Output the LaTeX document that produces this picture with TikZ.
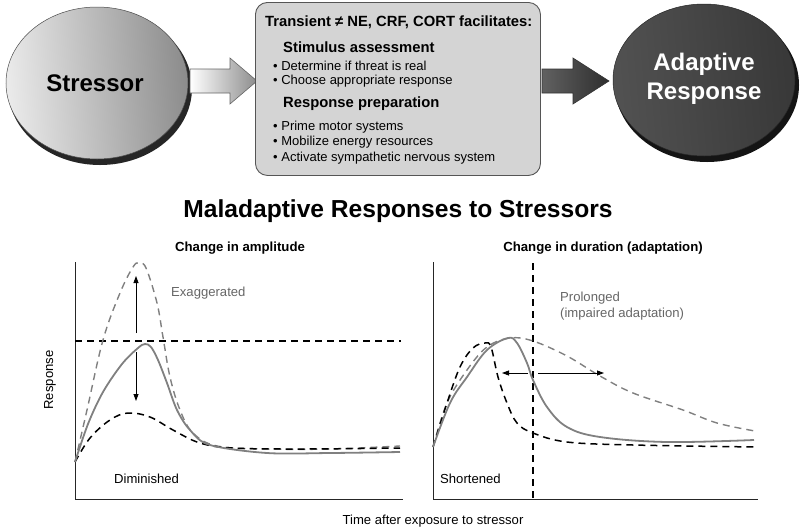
\documentclass[tikz,border=0pt]{standalone}
\usepackage{fontspec}
\setmainfont{Liberation Sans}
\usetikzlibrary{arrows.meta}
\definecolor{boxfill}{HTML}{D4D4D4}
\definecolor{boxline}{HTML}{555555}
\definecolor{curvegray}{HTML}{808080}
\begin{document}
\begin{tikzpicture}[x=1pt,y=-1pt,
  hd/.style={font=\bfseries\fontsize{14.8}{17}\selectfont, anchor=west, inner sep=0pt},
  bl/.style={font=\fontsize{13}{15}\selectfont, anchor=west, inner sep=0pt},
  ptitle/.style={font=\bfseries\fontsize{13.2}{15}\selectfont, inner sep=0pt},
  lbl/.style={font=\fontsize{13.1}{16}\selectfont, inner sep=0pt},
  axisline/.style={draw=black!85, line width=0.9pt},
  bdash/.style={draw=black, line width=1.5pt, dash pattern=on 7pt off 5pt},
  gdash/.style={draw=curvegray, line width=1.4pt, dash pattern=on 7pt off 5pt},
  gsolid/.style={draw=curvegray, line width=1.8pt},
  tip/.style={-{Triangle[length=7pt,width=5pt]}, line width=0.8pt}
]
\useasboundingbox (0,0) rectangle (800,528);

% ---- Stressor ellipse
\fill[black!85] (100,88) ellipse [x radius=92, y radius=77];
\shade[left color=black!8, right color=black!45, shading angle=95, draw=black!70, line width=0.5pt] (97,83) ellipse [x radius=91, y radius=76];
\node[font=\bfseries\fontsize{24}{28}\selectfont] (stressor) at (95,83) {Stressor};

% ---- arrow 1
\shade[left color=white, right color=black!45, draw=black!60, line width=0.6pt]
  (190,69) -- (230,69) -- (230,58) -- (257,81) -- (230,104) -- (230,93) -- (190,93) -- cycle;

% ---- box
\node[draw=boxline, fill=boxfill, rounded corners=12pt, line width=0.9pt,
      minimum width=285pt, minimum height=173pt, anchor=north west] (box) at (255,2) {};
\node[hd] (t0) at (265,22) {Transient ≠ NE, CRF, CORT facilitates:};
\node[hd] (t1) at (283,47) {Stimulus assessment};
\node[bl] (t2) at (273,66) {• Determine if threat is real};
\node[bl] (t3) at (273,81) {• Choose appropriate response};
\node[hd] (t4) at (283,104) {Response preparation};
\node[bl] (t5) at (273,127) {• Prime motor systems};
\node[bl] (t6) at (273,142) {• Mobilize energy resources};
\node[bl] (t7) at (273,158) {• Activate sympathetic nervous system};

% ---- arrow 2
\shade[left color=black!62, right color=black!82, draw=black!80, line width=0.6pt]
  (542,69) -- (573,69) -- (573,58) -- (609,81) -- (573,104) -- (573,93) -- (542,93) -- cycle;

% ---- Adaptive response ellipse
\fill[black!92] (707,85) ellipse [x radius=92, y radius=77];
\shade[left color=black!68, right color=black!78, shading angle=95, draw=black!85, line width=0.5pt] (704,80) ellipse [x radius=91, y radius=76];
\node[font=\bfseries\fontsize{24}{29}\selectfont, text=white, align=center] (adaptive) at (704,79) {Adaptive\\Response};

% ---- title
\node[font=\bfseries\fontsize{24.6}{29}\selectfont] (title) at (398,211) {Maladaptive Responses to Stressors};

% ---- left panel
\node[ptitle] (lt) at (240,248) {Change in amplitude};
\coordinate (lo) at (75,499);
\coordinate (ltop) at (75,262);
\coordinate (lend) at (403,499);
\draw[axisline] (ltop) -- (lo) -- (lend);
\draw[bdash] (75,341) -- (401,341);
\draw[gdash] plot[smooth, tension=0.6] coordinates {(75,462) (87,410) (103,340) (120,293) (133,267) (139,263) (146,268) (157,303) (163,337) (170,377) (180,410) (193,433) (217,446) (267,449) (330,449) (400,446)};
\draw[bdash] plot[smooth, tension=0.6] coordinates {(75,462) (90,438) (110,420) (128,413) (150,417) (173,430) (200,443) (233,448) (300,449) (400,448)};
\draw[gsolid] plot[smooth, tension=0.55] coordinates {(75,462) (88,424) (103,392) (122,364) (138,348) (145,344) (151,347) (158,360) (167,383) (177,410) (190,430) (210,445) (267,453) (330,453) (400,452)};
\coordinate (au0) at (136,333); \coordinate (au1) at (136,276);
\coordinate (ad0) at (136,352); \coordinate (ad1) at (136,401);
\draw[tip] (au0) -- (au1);
\draw[tip] (ad0) -- (ad1);
\node[lbl, text=black!60, anchor=west] (exag) at (171,293) {Exaggerated};
\node[lbl, anchor=west] (dimi) at (114,479) {Diminished};
\node[lbl, rotate=90] (resp) at (50,380) {Response};

% ---- right panel
\node[ptitle] (rt) at (603,248) {Change in duration (adaptation)};
\coordinate (ro) at (433,499);
\coordinate (rtop) at (433,262);
\coordinate (rend) at (758,499);
\draw[axisline] (rtop) -- (ro) -- (rend);
\draw[bdash] (533,263) -- (533,499);
\draw[gdash] plot[smooth, tension=0.6] coordinates {(433,447) (447,403) (467,370) (487,347) (510,338) (533,341) (567,356) (600,376) (633,393) (683,410) (717,423) (755,431)};
\draw[bdash] plot[smooth, tension=0.6] coordinates {(433,447) (447,403) (460,367) (473,348) (485,343) (491,347) (498,377) (507,403) (517,423) (533,433) (567,442) (633,445) (757,447)};
\draw[gsolid] plot[smooth, tension=0.6] coordinates {(433,447) (450,403) (467,377) (487,350) (508,338) (517,343) (527,363) (533,380) (547,407) (567,427) (600,437) (667,442) (754,440)};
\coordinate (al0) at (528,373); \coordinate (al1) at (502,373);
\coordinate (ar0) at (538,373); \coordinate (ar1) at (604,373);
\draw[tip] (al0) -- (al1);
\draw[tip] (ar0) -- (ar1);
\node[lbl, text=black!60, anchor=west, align=left] (prol) at (560,306) {Prolonged\\(impaired adaptation)};
\node[lbl, anchor=west] (short) at (440,479) {Shortened};

\node[lbl] (xlab) at (433,521) {Time after exposure to stressor};
\end{tikzpicture}
\end{document}
